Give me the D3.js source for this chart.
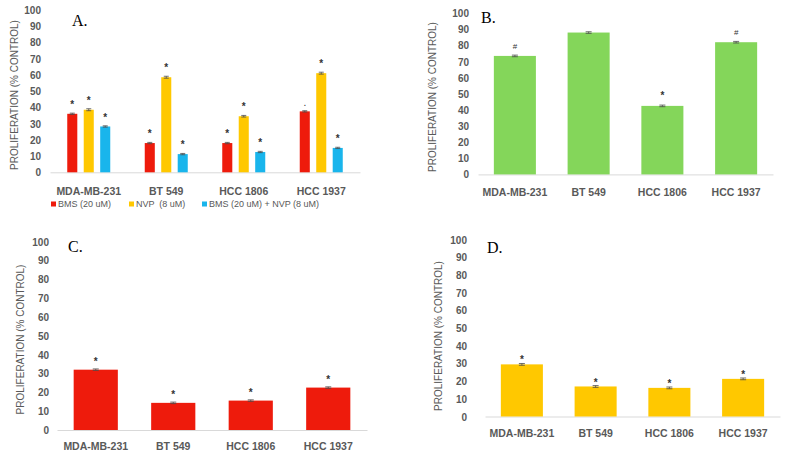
<!DOCTYPE html>
<html>
<head>
<meta charset="utf-8">
<script src="https://cdn.jsdelivr.net/npm/d3@7"></script>
<style>
  html, body { margin: 0; padding: 0; background: #ffffff; }
  svg { display: block; }
</style>
</head>
<body>
<svg id="chart" width="788" height="457"></svg>
<script>
// ---------- DATA ----------
const categories = ["MDA-MB-231", "BT 549", "HCC 1806", "HCC 1937"];
const yTicks = [0, 10, 20, 30, 40, 50, 60, 70, 80, 90, 100];
const yTitle = "PROLIFERATION (% CONTROL)";

// Panel A (combination experiment)
const seriesA = ["BMS (20 uM)", "NVP  (8 uM)", "BMS (20 uM) + NVP (8 uM)"];
const bmsA = [36, 18, 18, 37.5];
const nvpA = [38.5, 58.5, 34.5, 61];
const comboA = [28.2, 11.2, 12.5, 15];
const errA = [[0.4, 0.4, 0.4, 0.4], [0.6, 0.6, 0.5, 0.6], [0.4, 0.4, 0.4, 0.4]];
const marksA = [["*", "*", "*", "."], ["*", "*", "*", "*"], ["*", "*", "*", "*"]];

// Panel B
const valuesB = [73.5, 88, 42.5, 82];
const errB = [0.5, 0.5, 0.5, 0.5];
const marksB = ["#", "", "*", "#"];

// Panel C
const valuesC = [32, 14.4, 15.6, 22.5];
const errC = [0.4, 0.4, 0.4, 0.4];
const marksC = ["*", "*", "*", "*"];

// Panel D
const valuesD = [29.5, 17, 16.2, 21.3];
const errD = [0.5, 0.5, 0.5, 0.5];
const marksD = ["*", "*", "*", "*"];

// ---------- STYLE ----------
const RED = "#ee1b0c", YELLOW = "#ffc800", BLUE = "#19b5ec", GREEN = "#84d65a";
const TXT = "#595959", AXIS = "#d9d9d9", ERR = "#4d4d4d";
const SANS = "'Liberation Sans', Arial, sans-serif";
const SERIF = "'Liberation Serif', 'Times New Roman', serif";

const svg = d3.select("#chart");

function panel(cfg) {
  const g = svg.append("g");
  const y = d3.scaleLinear().domain([0, 100]).range([cfg.y0, cfg.y100]);
  const x = d3.scaleBand().domain(categories).range([cfg.x0, cfg.x1]).paddingInner(0).paddingOuter(0);

  // y tick labels (no axis line)
  const yAxis = d3.axisLeft(y).tickValues(yTicks).tickSize(0).tickPadding(0);
  const ya = g.append("g").attr("transform", `translate(${cfg.tickX},0)`).call(yAxis);
  ya.select(".domain").remove();
  ya.selectAll("text").attr("fill", TXT).attr("dy", "0.35em")
    .style("font-size", "10px").style("font-weight", "bold").style("font-family", SANS);

  // x axis baseline + category labels
  const xAxis = d3.axisBottom(x).tickSize(0).tickPadding(0);
  const xa = g.append("g").attr("transform", `translate(0,${cfg.y0})`).call(xAxis);
  xa.select(".domain").attr("stroke", AXIS).attr("stroke-width", 1);
  xa.selectAll("text").attr("fill", TXT)
    .style("font-size", "10.5px").style("font-weight", "bold").style("font-family", SANS)
    .attr("y", cfg.catY - cfg.y0).attr("dy", "0.35em");

  // y title
  g.append("text")
    .attr("transform", `translate(${cfg.titleX},${cfg.titleY}) rotate(-90)`)
    .attr("text-anchor", "middle").attr("dy", "0.35em")
    .style("font-size", "10px").style("font-family", SANS).attr("fill", TXT).text(yTitle);

  // panel letter
  g.append("text").attr("x", cfg.letterX).attr("y", cfg.letterY)
    .style("font-family", SERIF).style("font-size", "16px").attr("fill", "#000").text(cfg.letter);

  return { g, x, y };
}

function errorBar(g, cx, yTop, yBot, half) {
  g.append("line").attr("x1", cx).attr("x2", cx).attr("y1", yTop).attr("y2", yBot)
    .attr("stroke", ERR).attr("stroke-width", 0.8);
  [yTop, yBot].forEach(yy => g.append("line").attr("x1", cx - half).attr("x2", cx + half)
    .attr("y1", yy).attr("y2", yy).attr("stroke", ERR).attr("stroke-width", 0.8));
}

function mark(g, cx, yy, s) {
  if (!s) return;
  g.append("text").attr("x", cx).attr("y", yy).attr("text-anchor", "middle")
    .style("font-family", SANS).style("font-size", s === "#" ? "8px" : "10px")
    .style("font-weight", s === "*" ? "bold" : "normal")
    .attr("fill", "#333").text(s);
}

// ---------- PANEL A ----------
(function () {
  const cfg = { x0: 50, x1: 360, y0: 172.3, y100: 9.8, tickX: 41, catY: 191, titleX: 14, titleY: 95,
    letter: "A.", letterX: 72, letterY: 26 };
  const { g, x, y } = panel(cfg);
  const xs = d3.scaleBand().domain(seriesA).range([-21.5, 21.5]).paddingInner(0.39).paddingOuter(0);
  const colors = [RED, YELLOW, BLUE];
  const vals = [bmsA, nvpA, comboA];
  seriesA.forEach((s, si) => {
    categories.forEach((c, ci) => {
      const v = vals[si][ci];
      const bx = x(c) + x.bandwidth() / 2 + xs(s);
      g.append("rect").attr("x", bx).attr("y", y(v)).attr("width", xs.bandwidth())
        .attr("height", y(0) - y(v)).attr("fill", colors[si]);
      const cx = bx + xs.bandwidth() / 2;
      errorBar(g, cx, y(v + errA[si][ci]), y(v - errA[si][ci]), 2.5);
      mark(g, cx, y(v + errA[si][ci]) - 5, marksA[si][ci]);
    });
  });
  // legend
  const lx = [51, 129, 202];
  seriesA.forEach((s, si) => {
    g.append("rect").attr("x", lx[si]).attr("y", 201.5).attr("width", 5).attr("height", 5).attr("fill", colors[si]);
    g.append("text").attr("x", lx[si] + 7).attr("y", 204).attr("dy", "0.35em")
      .style("font-size", "9px").style("font-family", SANS).style("white-space", "pre")
      .attr("fill", TXT).text(s);
  });
})();

// ---------- single-series panels ----------
function simplePanel(cfg, values, errs, marks, color, gap) {
  const { g, x, y } = panel(cfg);
  const xb = d3.scaleBand().domain(categories).range([cfg.x0, cfg.x1]).paddingInner(0.43).paddingOuter(0.215);
  categories.forEach((c, i) => {
    const v = values[i];
    g.append("rect").attr("x", xb(c)).attr("y", y(v)).attr("width", xb.bandwidth())
      .attr("height", y(0) - y(v)).attr("fill", color);
    const cx = xb(c) + xb.bandwidth() / 2;
    errorBar(g, cx, y(v + errs[i]), y(v - errs[i]), 3);
    mark(g, cx, y(v + errs[i]) - gap, marks[i]);
  });
}

simplePanel({ x0: 478, x1: 773, y0: 174.4, y100: 13.2, tickX: 469, catY: 192, titleX: 432, titleY: 97,
  letter: "B.", letterX: 481, letterY: 23 }, valuesB, errB, marksB, GREEN, 6);

simplePanel({ x0: 57, x1: 367, y0: 430, y100: 241.5, tickX: 49, catY: 446.7, titleX: 20, titleY: 339.5,
  letter: "C.", letterX: 68, letterY: 252 }, valuesC, errC, marksC, RED, 4);

simplePanel({ x0: 485, x1: 780, y0: 416.5, y100: 239.8, tickX: 467, catY: 433.3, titleX: 438, titleY: 336,
  letter: "D.", letterX: 487, letterY: 253 }, valuesD, errD, marksD, YELLOW, 0);
</script>
</body>
</html>
